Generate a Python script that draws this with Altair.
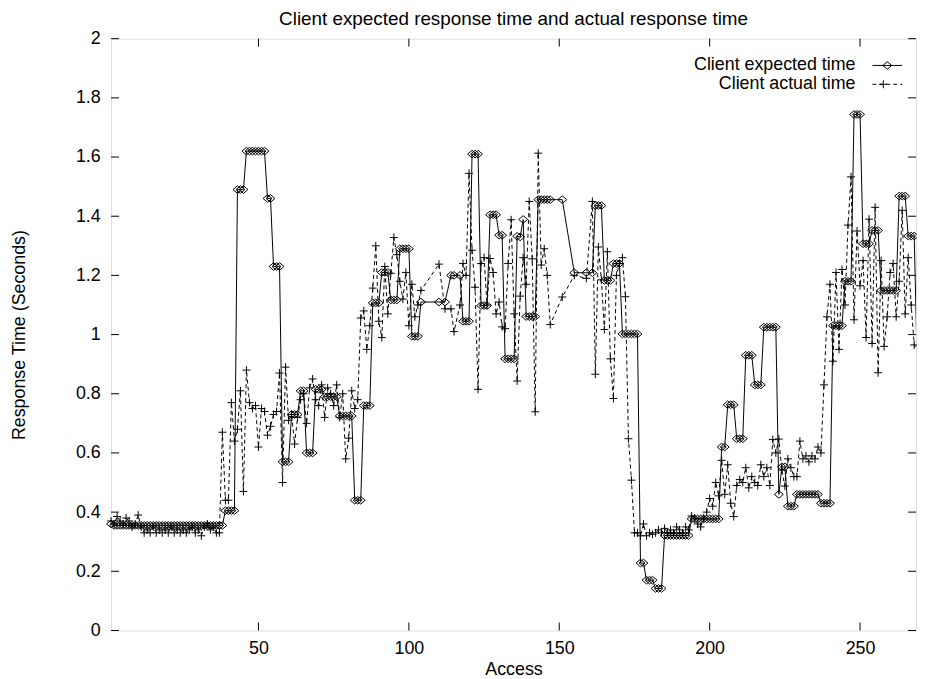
import altair as alt
import pandas as pd

FONT = "Liberation Sans"
W, H = 812, 597

# Access numbers (x) shared by both series
X_ACCESS = (list(range(1, 105)) + [110, 112, 114, 115, 117]
            + list(range(118, 148)) + [151, 155, 159] + list(range(161, 270)))

EXPECTED = [
    0.36, 0.355, 0.355, 0.355, 0.355, 0.355, 0.355, 0.355, 0.355, 0.355,
    0.355, 0.355, 0.355, 0.355, 0.355, 0.355, 0.355, 0.355, 0.355, 0.355,
    0.355, 0.355, 0.355, 0.355, 0.355, 0.355, 0.355, 0.355, 0.355, 0.355,
    0.355, 0.355, 0.355, 0.355, 0.355, 0.355, 0.355, 0.355, 0.405, 0.405,
    0.405, 0.405, 1.49, 1.49, 1.49, 1.62, 1.62, 1.62, 1.62, 1.62,
    1.62, 1.62, 1.46, 1.46, 1.23, 1.23, 1.23, 0.57, 0.57, 0.57,
    0.73, 0.73, 0.73, 0.81, 0.81, 0.60, 0.60, 0.60, 0.815, 0.815,
    0.815, 0.79, 0.79, 0.79, 0.79, 0.79, 0.725, 0.725, 0.725, 0.725,
    0.725, 0.44, 0.44, 0.44, 0.76, 0.76, 0.76, 1.107, 1.107, 1.107,
    1.21, 1.21, 1.21, 1.117, 1.117, 1.117, 1.29, 1.29, 1.29, 1.29,
    0.994, 0.994, 0.994, 1.11,
    1.11, 1.11, 1.2, 1.2, 1.2,
    1.045, 1.045, 1.045, 1.61, 1.61, 1.61, 1.098, 1.098, 1.098, 1.405,
    1.405, 1.405, 1.336, 1.336, 0.918, 0.918, 0.918, 0.918, 1.332, 1.33,
    1.389, 1.061, 1.061, 1.061, 1.061, 1.456, 1.456, 1.456, 1.456, 1.456,
    1.456, 1.209, 1.209,
    1.209, 1.436, 1.436, 1.436, 1.183, 1.183, 1.183, 1.24, 1.24, 1.24,
    1.002, 1.002, 1.002, 1.002, 1.002, 1.002, 0.228, 0.228, 0.17, 0.17,
    0.17, 0.142, 0.142, 0.142, 0.321, 0.321, 0.321, 0.321, 0.321, 0.321,
    0.321, 0.321, 0.321, 0.377, 0.377, 0.377, 0.377, 0.377, 0.377, 0.377,
    0.377, 0.377, 0.377, 0.62, 0.62, 0.763, 0.763, 0.763, 0.648, 0.648,
    0.648, 0.93, 0.93, 0.93, 0.83, 0.83, 0.83, 1.025, 1.025, 1.025,
    1.025, 1.025, 0.46, 0.553, 0.553, 0.42, 0.42, 0.42, 0.46, 0.46,
    0.46, 0.46, 0.46, 0.46, 0.46, 0.46, 0.43, 0.43, 0.43, 0.43,
    1.03, 1.03, 1.03, 1.03, 1.18, 1.18, 1.18, 1.744, 1.744, 1.744,
    1.307, 1.307, 1.307, 1.352, 1.352, 1.352, 1.149, 1.149, 1.149, 1.149,
    1.149, 1.149, 1.468, 1.468, 1.468, 1.333, 1.333, 1.333, 0.9,
]

ACTUAL = [
    0.37, 0.36, 0.385, 0.37, 0.36, 0.38, 0.37, 0.35, 0.36, 0.39,
    0.35, 0.33, 0.34, 0.33, 0.35, 0.33, 0.34, 0.33, 0.34, 0.33,
    0.35, 0.33, 0.34, 0.33, 0.34, 0.33, 0.34, 0.35, 0.33, 0.34,
    0.32, 0.35, 0.36, 0.34, 0.35, 0.33, 0.33, 0.67, 0.44, 0.44,
    0.77, 0.64, 0.68, 0.81, 0.47, 0.88, 0.77, 0.75, 0.76, 0.62,
    0.75, 0.74, 0.66, 0.69, 0.73, 0.74, 0.87, 0.50, 0.89, 0.71,
    0.73, 0.63, 0.72, 0.78, 0.80, 0.70, 0.82, 0.85, 0.78, 0.76,
    0.83, 0.72, 0.82, 0.80, 0.76, 0.83, 0.72, 0.80, 0.58, 0.65,
    0.81, 0.75, 0.78, 1.056, 1.08, 0.95, 1.03, 1.157, 1.30, 1.045,
    0.99, 1.23, 1.07, 1.207, 1.328, 1.27, 1.18, 1.12, 1.21, 1.03,
    1.17, 1.06, 1.10, 1.149,
    1.238, 1.087, 1.087, 1.01, 1.10,
    1.24, 1.20, 1.545, 1.285, 1.16, 0.815, 1.24, 1.26, 1.10, 1.257,
    1.21, 1.07, 1.11, 1.026, 1.02, 1.24, 1.388, 1.07, 0.843, 1.13,
    1.26, 1.17, 1.45, 1.256, 0.739, 1.613, 1.235, 1.29, 1.20, 1.034,
    1.127, 1.2, 1.19,
    1.45, 0.866, 1.296, 1.185, 1.017, 1.28, 0.918, 0.784, 1.20, 1.24,
    1.26, 1.128, 0.648, 0.508, 0.33, 0.33, 0.32, 0.36, 0.32, 0.33,
    0.325, 0.33, 0.34, 0.33, 0.345, 0.33, 0.34, 0.33, 0.35, 0.34,
    0.33, 0.35, 0.34, 0.387, 0.38, 0.36, 0.35, 0.38, 0.40, 0.446,
    0.42, 0.50, 0.455, 0.575, 0.46, 0.56, 0.43, 0.385, 0.49, 0.51,
    0.50, 0.55, 0.482, 0.52, 0.50, 0.49, 0.56, 0.52, 0.55, 0.49,
    0.645, 0.60, 0.647, 0.542, 0.488, 0.58, 0.55, 0.52, 0.52, 0.64,
    0.58, 0.59, 0.57, 0.59, 0.58, 0.62, 0.60, 0.83, 1.06, 1.17,
    0.91, 1.21, 0.95, 1.22, 1.10, 1.37, 1.533, 1.05, 1.35, 1.165,
    1.25, 0.99, 1.39, 0.97, 1.43, 0.871, 1.25, 0.96, 1.06, 1.21,
    1.24, 1.06, 1.18, 1.42, 1.07, 1.26, 1.10, 0.965, 0.95,
]

assert len(X_ACCESS) == len(EXPECTED) == len(ACTUAL), (len(X_ACCESS), len(EXPECTED), len(ACTUAL))

X_TICKS = [50, 100, 150, 200, 250]
Y_TICKS = [0, 0.2, 0.4, 0.6, 0.8, 1, 1.2, 1.4, 1.6, 1.8, 2]
LEGEND_LABELS = ["Client expected time", "Client actual time"]
X_MIN, X_MAX = 1, 268.6

df = pd.DataFrame({"x": X_ACCESS, "expected": EXPECTED, "actual": ACTUAL})
xt = pd.DataFrame({"v": X_TICKS})
yt = pd.DataFrame({"v": Y_TICKS})

xscale = alt.Scale(domain=[X_MIN, X_MAX], nice=False, zero=False)
yscale = alt.Scale(domain=[0, 2], nice=False, zero=False)

xaxis = alt.Axis(values=X_TICKS, ticks=False, domain=False, grid=False,
                 labelFont=FONT, labelFontSize=18, labelColor="black", labelPadding=9,
                 labelFlush=False, title="Access", titleFont=FONT, titleFontSize=18,
                 titleFontWeight="normal", titleColor="black", titleY=44,
                 titleBaseline="alphabetic")
yaxis = alt.Axis(values=Y_TICKS, format="~g", ticks=False, domain=False, grid=False,
                 labelFont=FONT, labelFontSize=18, labelColor="black", labelPadding=11,
                 labelFlush=False, title="Response Time (Seconds)", titleFont=FONT,
                 titleFontSize=18, titleFontWeight="normal", titleColor="black",
                 titleAngle=270, titleX=-92, titleY=H / 2, titleBaseline="middle",
                 titleAlign="center")

base = alt.Chart(df)
X = alt.X("x:Q", scale=xscale, axis=xaxis)

DIAMOND = "M-1,0L0,-0.85L1,0L0,0.85Z"
CROSS = "M-1,0L1,0M0,-1L0,1"

line_e = base.mark_line(color="black", strokeWidth=1, clip=True).encode(
    x=X, y=alt.Y("expected:Q", scale=yscale, axis=yaxis))
line_a = base.mark_line(color="black", strokeWidth=1, strokeDash=[4, 3], clip=True).encode(
    x=alt.X("x:Q", scale=xscale), y=alt.Y("actual:Q", scale=yscale))
pts_e = base.transform_filter(alt.datum.x <= X_MAX).mark_point(
    shape=DIAMOND, size=81, filled=False, color="black", strokeWidth=1, opacity=1).encode(
    x=alt.X("x:Q", scale=xscale), y=alt.Y("expected:Q", scale=yscale))
pts_a = base.transform_filter(alt.datum.x <= X_MAX).mark_point(
    shape=CROSS, size=64, filled=False, color="black", strokeWidth=1, opacity=1).encode(
    x=alt.X("x:Q", scale=xscale), y=alt.Y("actual:Q", scale=yscale))

TL = 8
tick_b = alt.Chart(xt).mark_rule(color="black", strokeWidth=1).encode(
    x=alt.X("v:Q", scale=xscale), y=alt.value(H), y2=alt.value(H - TL))
tick_t = alt.Chart(xt).mark_rule(color="black", strokeWidth=1).encode(
    x=alt.X("v:Q", scale=xscale), y=alt.value(0), y2=alt.value(TL))
tick_l = alt.Chart(yt).mark_rule(color="black", strokeWidth=1).encode(
    y=alt.Y("v:Q", scale=yscale), x=alt.value(0), x2=alt.value(TL))
tick_r = alt.Chart(yt).mark_rule(color="black", strokeWidth=1).encode(
    y=alt.Y("v:Q", scale=yscale), x=alt.value(W - TL), x2=alt.value(W))

# legend (drawn manually, gnuplot style: text right-aligned, sample on the right)
leg_layers = []
LEG_TEXT_X = 751
LEG_Y = [27, 46]
for i, lab in enumerate(LEGEND_LABELS):
    ldf = pd.DataFrame({"label": [lab]})
    leg_layers.append(alt.Chart(ldf).mark_text(
        align="right", baseline="middle", font=FONT, fontSize=18, color="black").encode(
        text="label:N", x=alt.value(LEG_TEXT_X), y=alt.value(LEG_Y[i])))
    rule_kw = dict(color="black", strokeWidth=1)
    if i == 1:
        rule_kw["strokeDash"] = [4, 3]
    leg_layers.append(alt.Chart(ldf).mark_rule(**rule_kw).encode(
        x=alt.value(768), x2=alt.value(798), y=alt.value(LEG_Y[i])))
    leg_layers.append(alt.Chart(ldf).mark_point(
        shape=DIAMOND if i == 0 else CROSS, size=81 if i == 0 else 64, filled=False,
        color="black", strokeWidth=1, opacity=1).encode(
        x=alt.value(783 if i == 0 else 779), y=alt.value(LEG_Y[i])))

chart = alt.layer(line_e, line_a, pts_e, pts_a, tick_b, tick_t, tick_l, tick_r,
                  *leg_layers).properties(
    width=W, height=H,
    title=alt.TitleParams("Client expected response time and actual response time",
                          font=FONT, fontSize=19, fontWeight="normal", color="black",
                          anchor="middle", offset=1),
    autosize=alt.AutoSizeParams(type="none"),
    padding={"left": 104, "top": 28, "right": 1, "bottom": 46},
).configure_view(stroke="black", strokeWidth=1.5).configure(background="white")

chart.save("out.html", embed_options={"renderer": "svg", "actions": False})
